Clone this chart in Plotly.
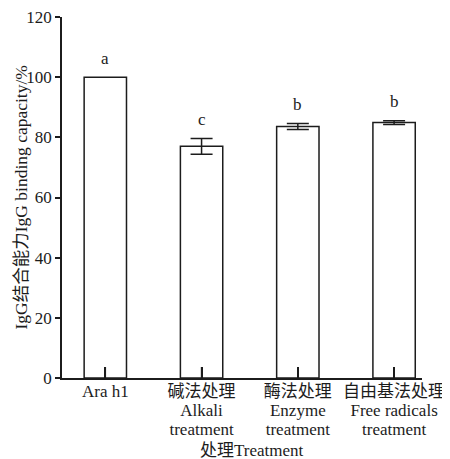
import plotly.graph_objects as go

cat_lines = [["Ara h1"], ["碱法处理", "Alkali", "treatment"], ["酶法处理", "Enzyme", "treatment"], ["自由基法处理", "Free radicals", "treatment"]]
values = [100.0, 77.0, 83.6, 84.9]
errors = [0.0, 2.6, 1.0, 0.6]
letters = ["a", "c", "b", "b"]
y_ticks = [0, 20, 40, 60, 80, 100, 120]
x_title = "处理Treatment"
y_title = "IgG结合能力IgG binding capacity/%"

xpos = list(range(len(cat_lines)))
FONT = "Liberation Serif, Noto Sans CJK SC, serif"
INK = "#1c1c1c"

def lbl(lines):
    return "<br>".join('<span style="font-size:17px">%s</span>' % s for s in lines)

ticktext = [lbl(l) for l in cat_lines]

fig = go.Figure()
fig.add_trace(go.Bar(
    x=xpos, y=values, width=0.44,
    marker=dict(color="rgba(0,0,0,0)", line=dict(color=INK, width=1.5)),
    showlegend=False,
))
ex = [x for x, e in zip(xpos, errors) if e > 0]
ey = [v for v, e in zip(values, errors) if e > 0]
ee = [e for e in errors if e > 0]
fig.add_trace(go.Scatter(
    x=ex, y=ey, mode="markers", marker=dict(size=1, opacity=0),
    error_y=dict(type="data", array=ee, visible=True, color=INK, thickness=1.5, width=11),
    showlegend=False, hoverinfo="skip",
))

# inward x-axis tick marks at each category (pixel-length lines anchored at y=0)
for x in xpos:
    fig.add_shape(type="line", xref="x", yref="y", x0=x, x1=x,
                  ysizemode="pixel", yanchor=0, y0=0, y1=11,
                  line=dict(color=INK, width=1.5), layer="above")

for x, v, e, t in zip(xpos, values, errors, letters):
    fig.add_annotation(x=x, y=v + e, text=t, showarrow=False, yanchor="middle", yshift=19,
                       font=dict(family=FONT, size=17, color=INK))

fig.add_annotation(x=0.5, y=0, xref="paper", yref="paper", text=x_title, showarrow=False,
                   xanchor="center", yanchor="middle", xshift=10, yshift=-72,
                   font=dict(family=FONT, size=17, color=INK))
fig.add_annotation(x=0, y=0.5, xref="paper", yref="paper", text=y_title, showarrow=False,
                   textangle=-90, xanchor="center", yanchor="middle", xshift=-42,
                   font=dict(family=FONT, size=17.5, color=INK))

# page body adds an 8px offset, so the figure is sized/margined to compensate
fig.update_layout(
    width=442, height=451,
    margin=dict(l=54, r=28, t=9, b=81, autoexpand=False),
    paper_bgcolor="white", plot_bgcolor="white",
    font=dict(family=FONT, size=16, color=INK),
)
fig.update_xaxes(
    range=[-0.45, 3.29], tickmode="array", tickvals=xpos, ticktext=ticktext,
    ticks="inside", ticklen=11, tickwidth=1.5, tickcolor=INK, layer="above traces",
    showline=True, linecolor=INK, linewidth=1.5, showgrid=False, zeroline=False,
    tickfont=dict(size=14.6), automargin=False, ticklabeloverflow="allow",
)
fig.update_yaxes(
    range=[0, 120], tickmode="array", tickvals=y_ticks,
    ticks="outside", ticklen=5, tickwidth=1.5, tickcolor=INK,
    showline=True, linecolor=INK, linewidth=1.5, showgrid=False, zeroline=False,
    tickfont=dict(size=17), automargin=False, ticklabeloverflow="allow",
)
fig.write_html("out.html")
